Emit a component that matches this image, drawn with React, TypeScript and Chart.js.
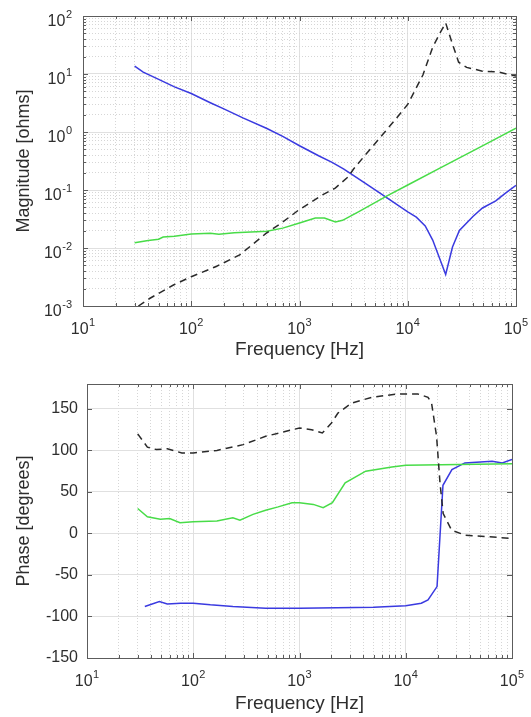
import React, { useEffect, useRef } from 'react';
import { Chart, registerables } from 'chart.js';

Chart.register(...registerables);

const FONT = '"Liberation Sans", Arial, Helvetica, sans-serif';
const TEXT = '#2e2e2e';
const AXIS = '#5c5c5c';
const BLUE = '#3a3ae0';
const GREEN = '#48dc48';
const BLACK = '#2a2a2a';

// ---------- Magnitude (ohms) ----------
const magBlueFreq = [30, 36, 50, 70, 100, 150, 200, 300, 500, 700, 1000, 1500, 2000, 2570, 4000, 6000, 10000, 12000, 14500, 17000, 22400, 25900, 30000, 40000, 49000, 65000, 80000, 100000];
const magBlue = [13.7, 10.8, 8.1, 6.0, 4.6, 3.2, 2.5, 1.75, 1.15, 0.84, 0.58, 0.39, 0.3, 0.23, 0.133, 0.08, 0.042, 0.034, 0.024, 0.0137, 0.0035, 0.0104, 0.02, 0.035, 0.049, 0.065, 0.088, 0.12];

const magGreenFreq = [30, 40, 50, 55, 70, 100, 150, 180, 250, 400, 500, 700, 1000, 1400, 1700, 2150, 2500, 3500, 6500, 10000, 20000, 50000, 100000];
const magGreen = [0.0123, 0.0135, 0.0142, 0.0155, 0.016, 0.0174, 0.018, 0.0172, 0.0183, 0.019, 0.0195, 0.022, 0.027, 0.033, 0.033, 0.028, 0.03, 0.042, 0.08, 0.122, 0.24, 0.59, 1.17];

const magBlackFreq = [32.5, 41.6, 68.5, 100, 170, 280, 490, 700, 980, 1620, 2140, 2800, 3160, 4000, 6000, 8000, 10000, 13800, 17000, 20000, 22400, 25000, 29500, 35000, 49000, 69000, 100000];
const magBlack = [0.001, 0.00136, 0.0023, 0.0032, 0.0048, 0.0076, 0.0178, 0.028, 0.045, 0.082, 0.108, 0.167, 0.23, 0.39, 0.95, 1.8, 3.0, 9.6, 29, 52, 76, 40, 16, 13, 11.2, 10.8, 9.2];

// ---------- Phase (degrees) ----------
const phBlackFreq = [30, 37, 45, 57, 78, 100, 167, 295, 480, 1000, 1300, 1640, 2000, 2300, 3100, 4800, 8500, 13000, 16200, 17500, 19500, 21000, 22500, 27000, 36000, 60000, 100000];
const phBlack = [120, 104, 101, 102, 97, 97, 100, 107, 117, 127, 125, 121, 133, 145, 157, 164, 168, 168, 164, 157, 117, 61, 24, 4, -2, -4, -6];

const phGreenFreq = [30, 37, 49, 60, 75, 100, 167, 236, 275, 365, 480, 630, 850, 1000, 1350, 1670, 2040, 2690, 4200, 7400, 10000, 100000];
const phGreen = [30, 20, 17, 18, 13, 14, 15, 19, 16, 23, 28, 32, 37, 37, 35, 31, 37, 61, 75, 80, 82, 84];

const phBlueFreq = [35, 48, 57, 76, 100, 145, 236, 480, 1000, 5000, 10000, 14000, 16200, 19700, 22400, 27200, 36000, 65000, 81000, 100000];
const phBlue = [-88, -82, -85, -84, -84, -86, -88, -90, -90, -89, -87, -84, -80, -64, 58, 77, 85, 87, 85, 89];

const phaseTicks = [-150, -100, -50, 0, 50, 100, 150];

const pts = (xs: number[], ys: number[]) => xs.map((x, i) => ({ x, y: ys[i] }));

const isDecade = (v: number) => Math.abs(Math.log10(v) - Math.round(Math.log10(v))) < 1e-6;

function logTickValues(e0: number, e1: number) {
  const out: number[] = [];
  for (let e = e0; e < e1; e++) {
    for (let m = 1; m <= 9; m++) out.push(Number((m * Math.pow(10, e)).toPrecision(6)));
  }
  out.push(Math.pow(10, e1));
  return out;
}

function drawPow(ctx: CanvasRenderingContext2D, exp: number, x: number, baseY: number, expY: number, align: 'center' | 'right') {
  ctx.font = `16px ${FONT}`;
  const w10 = ctx.measureText('10').width;
  const es = String(exp);
  ctx.font = `11px ${FONT}`;
  const we = ctx.measureText(es).width;
  const total = w10 + we + 0.5;
  const start = align === 'center' ? x - total / 2 : x - total;
  ctx.font = `16px ${FONT}`;
  ctx.fillText('10', start, baseY);
  ctx.font = `11px ${FONT}`;
  ctx.fillText(es, start + w10 + 0.5, expY);
}

function axesPlugin(yLog: boolean) {
  return {
    id: 'matlabAxes',
    afterDatasetsDraw(chart: any) {
      const { ctx, chartArea: a } = chart;
      const xs = chart.scales.x;
      const ys = chart.scales.y;
      ctx.save();
      ctx.strokeStyle = AXIS;
      ctx.lineWidth = 1;
      ctx.setLineDash([]);
      ctx.beginPath();
      for (const t of xs.ticks) {
        const px = Math.round(xs.getPixelForValue(t.value)) + 0.5;
        const len = isDecade(t.value) ? 5 : 3;
        ctx.moveTo(px, a.bottom);
        ctx.lineTo(px, a.bottom - len);
        ctx.moveTo(px, a.top);
        ctx.lineTo(px, a.top + len);
      }
      for (const t of ys.ticks) {
        const py = Math.round(ys.getPixelForValue(t.value)) + 0.5;
        const len = !yLog || isDecade(t.value) ? 5 : 3;
        ctx.moveTo(a.left, py);
        ctx.lineTo(a.left + len, py);
        ctx.moveTo(a.right, py);
        ctx.lineTo(a.right - len, py);
      }
      ctx.stroke();
      ctx.strokeRect(Math.round(a.left) + 0.5, Math.round(a.top) + 0.5, Math.round(a.right - a.left), Math.round(a.bottom - a.top));

      ctx.fillStyle = TEXT;
      ctx.textBaseline = 'alphabetic';
      ctx.textAlign = 'left';
      for (const t of xs.ticks) {
        if (!isDecade(t.value)) continue;
        const px = xs.getPixelForValue(t.value);
        drawPow(ctx, Math.round(Math.log10(t.value)), px, a.bottom + 28, a.bottom + 20, 'center');
      }
      if (yLog) {
        for (const t of ys.ticks) {
          if (!isDecade(t.value)) continue;
          const py = ys.getPixelForValue(t.value);
          drawPow(ctx, Math.round(Math.log10(t.value)), a.left - 11, py + 10, py + 2, 'right');
        }
      }
      ctx.restore();
    },
  };
}

const gridColor = (ctx: any) => (ctx.tick && isDecade(ctx.tick.value) ? '#e0e0e0' : '#d6d6d6');
const gridDash = (ctx: any) => (ctx.tick && isDecade(ctx.tick.value) ? [] : [1, 2]);

function xLogScale(titlePadBottom: number, height: number) {
  return {
    type: 'logarithmic',
    min: 10,
    max: 100000,
    afterBuildTicks: (s: any) => {
      s.ticks = logTickValues(1, 5).map((v) => ({ value: v }));
    },
    afterFit: (s: any) => {
      s.height = height;
    },
    ticks: { display: false },
    grid: { color: gridColor, drawTicks: false, lineWidth: 1 },
    border: { display: false, dash: gridDash },
    title: {
      display: true,
      text: 'Frequency [Hz]',
      color: TEXT,
      font: { family: FONT, size: 19 },
      padding: { top: 0, bottom: titlePadBottom },
    },
  };
}

function line(label: string, data: any[], color: string, dashed = false) {
  return {
    label,
    data,
    borderColor: color,
    backgroundColor: color,
    borderWidth: 1.5,
    borderDash: dashed ? [7, 5] : [],
    pointRadius: 0,
    tension: 0,
    fill: false,
  };
}

function magConfig(): any {
  return {
    type: 'line',
    data: {
      datasets: [
        line('black', pts(magBlackFreq, magBlack), BLACK, true),
        line('green', pts(magGreenFreq, magGreen), GREEN),
        line('blue', pts(magBlueFreq, magBlue), BLUE),
      ],
    },
    options: {
      responsive: false,
      animation: false,
      devicePixelRatio: 1,
      parsing: true,
      layout: { padding: { left: 0, right: 15, top: 16, bottom: 0 } },
      plugins: { legend: { display: false }, tooltip: { enabled: false } },
      scales: {
        x: xLogScale(4, 59),
        y: {
          type: 'logarithmic',
          min: 0.001,
          max: 100,
          afterBuildTicks: (s: any) => {
            s.ticks = logTickValues(-3, 2).map((v) => ({ value: v }));
          },
          afterFit: (s: any) => {
            s.width = 83;
          },
          ticks: { display: false },
          grid: { color: gridColor, drawTicks: false, lineWidth: 1 },
          border: { display: false, dash: gridDash },
          title: {
            display: true,
            text: 'Magnitude [ohms]',
            color: TEXT,
            font: { family: FONT, size: 18 },
            padding: { top: 13, bottom: 0 },
          },
        },
      },
    },
    plugins: [axesPlugin(true)],
  };
}

function phaseConfig(): any {
  return {
    type: 'line',
    data: {
      datasets: [
        line('black', pts(phBlackFreq, phBlack), BLACK, true),
        line('green', pts(phGreenFreq, phGreen), GREEN),
        line('blue', pts(phBlueFreq, phBlue), BLUE),
      ],
    },
    options: {
      responsive: false,
      animation: false,
      devicePixelRatio: 1,
      layout: { padding: { left: 0, right: 19, top: 19, bottom: 0 } },
      plugins: { legend: { display: false }, tooltip: { enabled: false } },
      scales: {
        x: xLogScale(2, 59),
        y: {
          type: 'linear',
          min: -150,
          max: 180,
          afterBuildTicks: (s: any) => {
            s.ticks = phaseTicks.map((v) => ({ value: v }));
          },
          afterFit: (s: any) => {
            s.width = 87;
          },
          ticks: {
            color: TEXT,
            font: { family: FONT, size: 16 },
            padding: 9,
            callback: (v: any) => String(v),
          },
          grid: { color: '#e0e0e0', drawTicks: false, lineWidth: 1 },
          border: { display: false },
          title: {
            display: true,
            text: 'Phase [degrees]',
            color: TEXT,
            font: { family: FONT, size: 18 },
            padding: { top: 13, bottom: 0 },
          },
        },
      },
    },
    plugins: [axesPlugin(false)],
  };
}

export default function App() {
  const r1 = useRef<HTMLCanvasElement>(null);
  const r2 = useRef<HTMLCanvasElement>(null);
  useEffect(() => {
    const c1 = new Chart(r1.current as HTMLCanvasElement, magConfig());
    const c2 = new Chart(r2.current as HTMLCanvasElement, phaseConfig());
    return () => {
      c1.destroy();
      c2.destroy();
    };
  }, []);
  return (
    <div style={{ position: 'absolute', left: 0, top: 0, width: 531, height: 717, background: '#fff' }}>
      <canvas ref={r1} width={531} height={365} style={{ position: 'absolute', left: 0, top: 0, width: 531, height: 365 }} />
      <canvas ref={r2} width={531} height={352} style={{ position: 'absolute', left: 0, top: 365, width: 531, height: 352 }} />
    </div>
  );
}
